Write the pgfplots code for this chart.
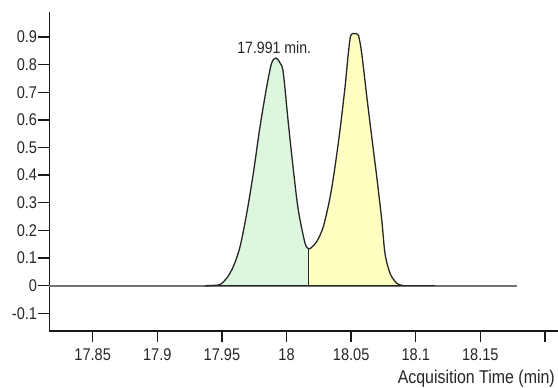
\documentclass[border=0pt]{standalone}
\usepackage{fontspec}
\setmainfont{Liberation Sans}[FakeStretch=0.86]
\usepackage{pgfplots}
\pgfplotsset{compat=1.18}
\usepackage{pgfplotstable}
\definecolor{pkgreen}{RGB}{222,245,222}
\definecolor{pkyellow}{RGB}{255,255,194}
\definecolor{basegray}{RGB}{115,115,115}
\pgfplotstableread{
x y
17.9369 0
17.9433 0.001
17.9485 0.004
17.9537 0.027
17.9588 0.069
17.9640 0.141
17.9692 0.262
17.9743 0.407
17.9795 0.576
17.9847 0.721
17.9885 0.806
17.9919 0.824
17.9950 0.806
17.9975 0.770
18.0014 0.588
18.0053 0.419
18.0091 0.274
18.0143 0.154
18.0169 0.135
}\peakone
\pgfplotstableread{
x y
18.0169 0.135
18.0182 0.134
18.0234 0.160
18.0285 0.214
18.0337 0.320
18.0375 0.430
18.0414 0.564
18.0453 0.720
18.0478 0.840
18.0497 0.906
18.0526 0.912
18.0556 0.906
18.0582 0.840
18.0621 0.685
18.0659 0.540
18.0698 0.395
18.0737 0.238
18.0762 0.117
18.0801 0.045
18.0853 0.009
18.0904 0
}\peaktwo
\begin{document}
\begin{tikzpicture}
\begin{axis}[
  at={(0,0)}, anchor=south west,
  scale only axis,
  width=508.7bp, height=319.3bp,
  xmin=17.8164, xmax=18.2101,
  ymin=-0.164, ymax=0.9916,
  axis lines*=left,
  axis line style={line width=1.4bp, black!90},
  tick style={line width=1.4bp, black!90},
  tick align=outside,
  major tick length=11bp,
  xtick={17.85,17.9,17.95,18,18.05,18.1,18.15,18.2},
  xticklabels={17.85,17.9,17.95,18,18.05,18.1,18.15,{}},
  ytick={-0.1,0,0.1,0.2,0.3,0.4,0.5,0.6,0.7,0.8,0.9},
  yticklabels={-0.1,0,0.1,0.2,0.3,0.4,0.5,0.6,0.7,0.8,0.9},
  tick label style={font=\fontsize{17}{19}\selectfont, text=black!85},
  xticklabel style={inner sep=3bp, yshift=-3bp},
  yticklabel style={inner sep=1bp},
  xlabel={Acquisition Time (min)},
  xlabel style={at={(axis description cs:1,0)}, anchor=base east, yshift=-52bp, xshift=-3bp, font=\fontsize{18.6}{21}\selectfont, text=black!85, inner sep=0pt},
  clip=false,
]
\addplot[basegray, line width=2bp] coordinates {(17.8164,0) (18.178,0)};
\addplot[fill=pkgreen, draw=none, smooth] table[x=x,y=y]{\peakone} \closedcycle;
\addplot[fill=pkyellow, draw=none, smooth] table[x=x,y=y]{\peaktwo} \closedcycle;
\addplot[black!85, line width=1.3bp] coordinates {(17.9369,0) (18.1149,0)};
\addplot[black!85, line width=1.3bp, smooth] table[x=x,y=y]{\peakone};
\addplot[black!85, line width=1.3bp, smooth] table[x=x,y=y]{\peaktwo};
\addplot[black!85, line width=1.3bp] coordinates {(18.0169,0) (18.0169,0.135)};
\node[font=\fontsize{16.5}{19}\selectfont, text=black!85, inner sep=0pt] at (axis cs:17.9905,0.86) {17.991 min.};
\end{axis}
\pgfresetboundingbox
\path[use as bounding box] (-49.3bp,-57bp) rectangle (508.7bp,331bp);
\end{tikzpicture}
\end{document}
